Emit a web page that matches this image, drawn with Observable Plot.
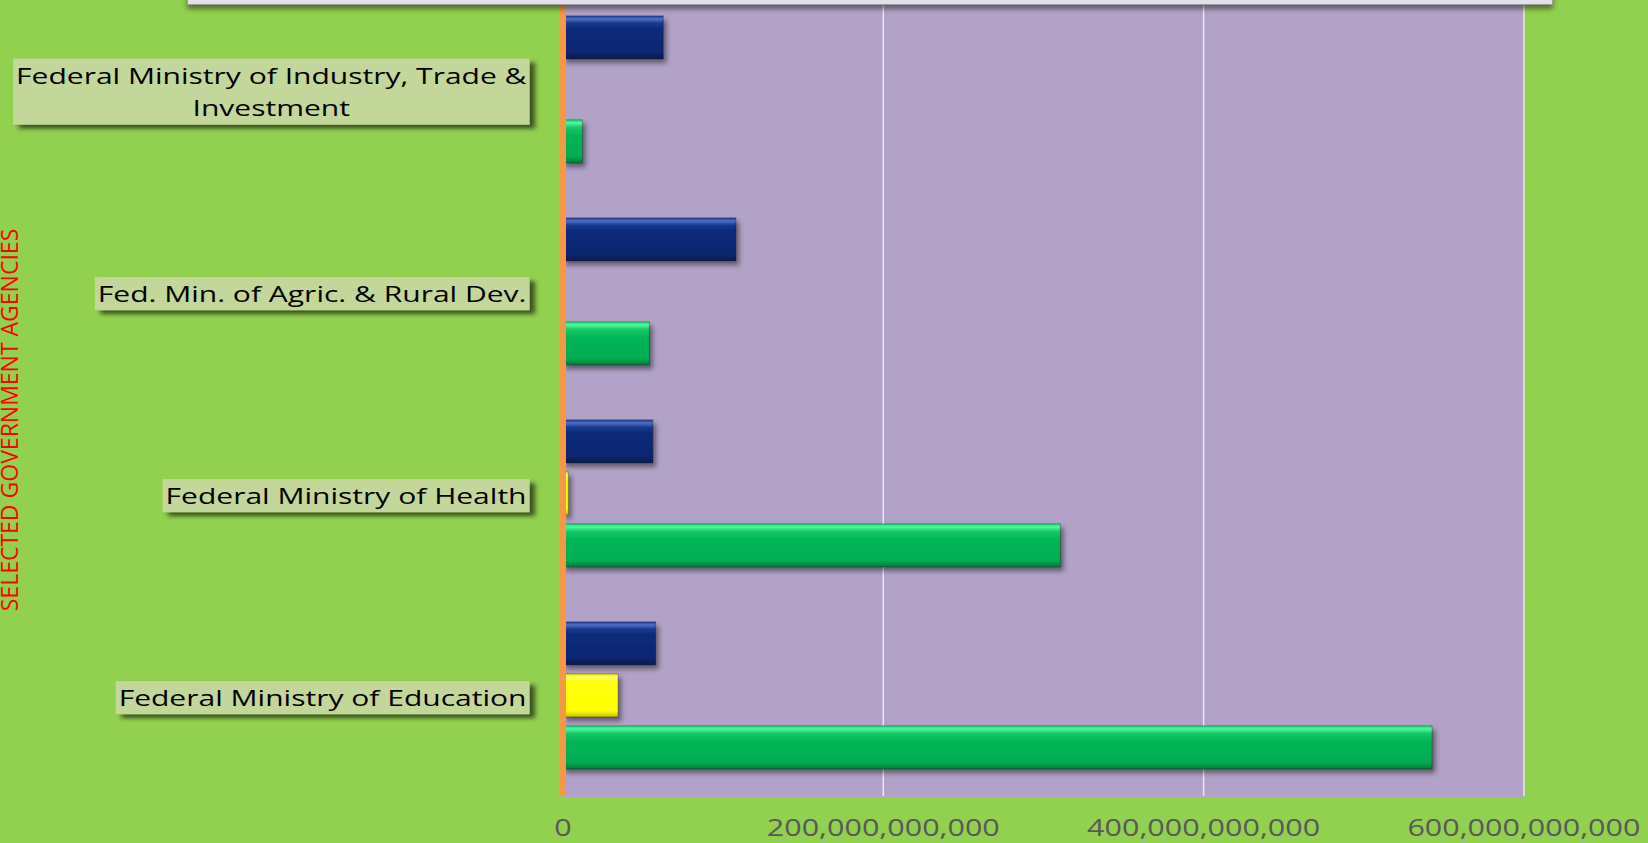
<!DOCTYPE html>
<html>
<head>
<meta charset="utf-8">
<script src="https://cdn.jsdelivr.net/npm/d3@7"></script>
<script src="https://cdn.jsdelivr.net/npm/@observablehq/plot@0.6"></script>
<style>
  html, body { margin: 0; padding: 0; background: #92d050; overflow: hidden; }
  #wrap { position: relative; width: 1648px; height: 843px; overflow: hidden; background: #92d050; }
  #chart { position: absolute; left: 0; top: -40px; }
  #legendbox { position: absolute; left: 187px; top: -20px; width: 1364px; height: 23px;
    background: #e4e0ea; border: 1.5px solid #9c9c9c; box-shadow: 0 4px 5px rgba(0,0,0,0.45); }
  #ytitle { position: absolute; left: 0.5px; top: 420px; transform: translateY(-50%) rotate(180deg);
    writing-mode: vertical-rl; font-family: "Open Sans", sans-serif; font-size: 23px; color: #ff0000;
    white-space: nowrap; line-height: 0.72; }
</style>
</head>
<body>
<div id="wrap">
  <svg width="0" height="0" style="position:absolute">
    <defs>
      <linearGradient id="gBlue" x1="0" y1="0" x2="0" y2="1">
        <stop offset="0" stop-color="#1d3f95"/>
        <stop offset="0.07" stop-color="#4d6fc4"/>
        <stop offset="0.17" stop-color="#1a3a8c"/>
        <stop offset="0.3" stop-color="#0c2a7a"/>
        <stop offset="0.85" stop-color="#0a2670"/>
        <stop offset="1" stop-color="#07184c"/>
      </linearGradient>
      <linearGradient id="gGreen" x1="0" y1="0" x2="0" y2="1">
        <stop offset="0" stop-color="#1bd772"/>
        <stop offset="0.07" stop-color="#52f7a2"/>
        <stop offset="0.18" stop-color="#14c865"/>
        <stop offset="0.35" stop-color="#05b656"/>
        <stop offset="0.85" stop-color="#03ad52"/>
        <stop offset="1" stop-color="#037d3b"/>
      </linearGradient>
      <linearGradient id="gYellow" x1="0" y1="0" x2="0" y2="1">
        <stop offset="0" stop-color="#e8e810"/>
        <stop offset="0.07" stop-color="#ffff66"/>
        <stop offset="0.18" stop-color="#ffff10"/>
        <stop offset="0.85" stop-color="#ffff00"/>
        <stop offset="1" stop-color="#c9c400"/>
      </linearGradient>
      <filter id="barShadow" x="-10%" y="-30%" width="130%" height="180%">
        <feDropShadow dx="3" dy="4" stdDeviation="2.5" flood-color="#000" flood-opacity="0.45"/>
      </filter>
      <filter id="boxShadow" x="-10%" y="-30%" width="130%" height="180%">
        <feDropShadow dx="4" dy="4" stdDeviation="2" flood-color="#000" flood-opacity="0.6"/>
      </filter>
    </defs>
  </svg>
  <div id="chart"></div>
  <div id="legendbox"></div>
  <div id="ytitle">SELECTED GOVERNMENT AGENCIES</div>
</div>
<script>
// ---- data ----
const categories = [
  "Federal Ministry of Industry, Trade & Investment",
  "Fed. Min. of Agric. & Rural Dev.",
  "Federal Ministry of Health",
  "Federal Ministry of Education"
];
const categoryLabels = [
  "Federal Ministry of Industry, Trade &\nInvestment",
  "Fed. Min. of Agric. & Rural Dev.",
  "Federal Ministry of Health",
  "Federal Ministry of Education"
];
const seriesNames = ["Series 1", "Series 2", "Series 3"];
const series1Values = [62.9e9, 108.3e9, 56.4e9, 58.1e9];   // dark blue
const series2Values = [0, 0, 3.6e9, 34.7e9];               // yellow
const series3Values = [12.4e9, 54.3e9, 310.9e9, 543e9];    // green
const xTicks = [0, 200e9, 400e9, 600e9];

const rows = [];
categories.forEach((c, i) => {
  rows.push({category: c, series: seriesNames[0], value: series1Values[i]});
  rows.push({category: c, series: seriesNames[1], value: series2Values[i]});
  rows.push({category: c, series: seriesNames[2], value: series3Values[i]});
});

const chart = Plot.plot({
  width: 1648,
  height: 883,
  marginTop: 27.1,
  marginBottom: 45.5,
  marginLeft: 562.5,
  marginRight: 124.6,
  style: {background: "transparent", fontFamily: "'Open Sans', sans-serif", overflow: "visible"},
  facet: {data: rows, y: "category", marginTop: 0, marginRight: 0, marginBottom: 0, marginLeft: 0},
  fy: {domain: categories, padding: 0},
  x: {domain: [0, 600e9]},
  y: {domain: seriesNames, paddingInner: 0.171, paddingOuter: 0.493, axis: null},
  color: {domain: seriesNames, range: ["url(#gBlue)", "url(#gYellow)", "url(#gGreen)"]},
  marks: [
    Plot.frame({fill: "#b2a2c7", stroke: "#b2a2c7"}),
    Plot.gridX(xTicks.slice(1), {stroke: "#ffffff", strokeOpacity: 0.75, strokeWidth: 1.5}),
    Plot.barX(rows, {x: "value", y: "series", fill: "series", stroke: "rgba(0,0,0,0.3)", strokeWidth: 1}),
    Plot.ruleX([0], {stroke: "#f79646", strokeWidth: 6}),
    Plot.axisX({ticks: xTicks, tickFormat: d3.format(","), tickSize: 0, tickPadding: 23.2,
      fontSize: 23.4, color: "#595959", label: null}),
    Plot.axisFy({anchor: "left", tickSize: 0, tickPadding: 36.5, fontSize: 21.7, lineHeight: 1.5,
      color: "#000000", label: null, tickFormat: d => categoryLabels[categories.indexOf(d)]})
  ]
});

document.getElementById("chart").appendChild(chart);

// ---- styling touches ----
const ns = "http://www.w3.org/2000/svg";
chart.querySelectorAll('g[aria-label="bar"]').forEach(g => g.setAttribute("filter", "url(#barShadow)"));

// horizontal stretch of the x tick labels to match the reference's wide lettering
const xt = Array.from(chart.querySelectorAll('g[aria-label="x-axis tick label"] text'));
const refX = xt.find(t => t.textContent === "200,000,000,000");
const sxX = refX ? 233 / refX.getComputedTextLength() : 1.3;
xt.forEach(t => t.setAttribute("transform", (t.getAttribute("transform") || "") + ` scale(${sxX},1)`));

// category labels: centered lines, boxed background with shadow, horizontal stretch
const ft = Array.from(chart.querySelectorAll('g[aria-label="fy-axis tick label"] text'));
const refF = ft.find(t => t.textContent === "Federal Ministry of Health");
const sxF = refF ? 361 / refF.getComputedTextLength() : 1.35;
ft.forEach(t => {
  const spans = t.querySelectorAll("tspan");
  if (spans.length > 1) {
    const widths = Array.from(spans, s => s.getComputedTextLength());
    const W = Math.max(...widths);
    spans.forEach((s, i) => s.setAttribute("x", -(W - widths[i]) / 2));
  }
  t.setAttribute("transform", (t.getAttribute("transform") || "") + ` scale(${sxF},1)`);
  const b = t.getBBox();
  const lines = Math.max(1, spans.length);
  const h = lines === 1 ? 33 : 66;
  const padX = 3 / sxF;
  const rect = document.createElementNS(ns, "rect");
  rect.setAttribute("x", b.x - padX);
  rect.setAttribute("width", b.width + 2 * padX);
  rect.setAttribute("y", b.y + b.height / 2 - h / 2);
  rect.setAttribute("height", h);
  rect.setAttribute("fill", "#c4d79b");
  rect.setAttribute("filter", "url(#boxShadow)");
  rect.setAttribute("transform", t.getAttribute("transform"));
  t.parentNode.insertBefore(rect, t);
});
</script>
</body>
</html>
